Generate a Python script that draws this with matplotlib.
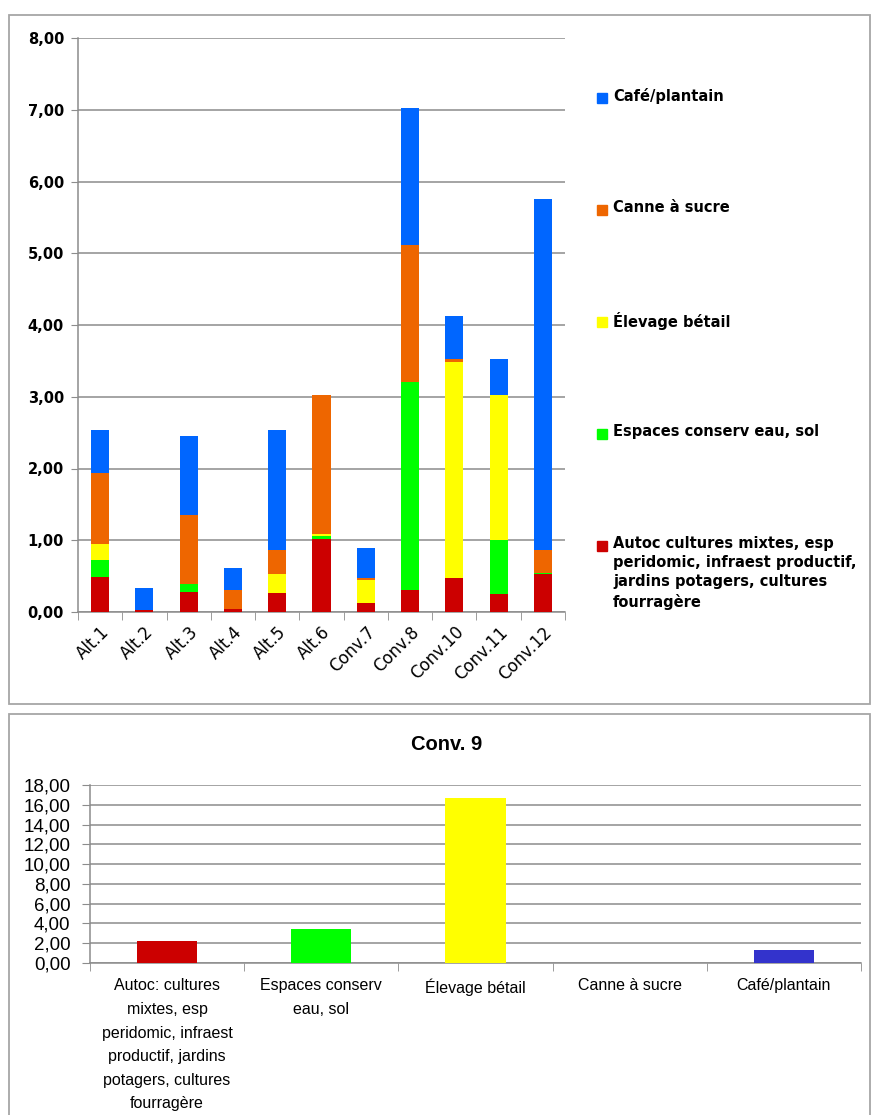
import matplotlib
matplotlib.use("Agg")
import matplotlib.pyplot as plt
import numpy as np
from matplotlib.patches import Rectangle
from matplotlib.ticker import FuncFormatter, FixedLocator

# stacked data (top chart)
sites = ['Alt.1', 'Alt.2', 'Alt.3', 'Alt.4', 'Alt.5', 'Alt.6',
         'Conv.7', 'Conv.8', 'Conv.10', 'Conv.11', 'Conv.12']
autoc = [0.49, 0.03, 0.28, 0.04, 0.26, 1.02, 0.13, 0.31, 0.47, 0.25, 0.53]
espaces = [0.24, 0.00, 0.11, 0.00, 0.00, 0.04, 0.00, 2.89, 0.00, 0.75, 0.02]
elevage = [0.22, 0.00, 0.00, 0.00, 0.27, 0.03, 0.31, 0.00, 3.01, 2.03, 0.00]
canne = [0.99, 0.00, 0.96, 0.27, 0.33, 1.94, 0.03, 1.91, 0.05, 0.00, 0.31]
cafe = [0.60, 0.30, 1.10, 0.31, 1.68, 0.00, 0.42, 1.91, 0.60, 0.49, 4.90]

series_names = ['Autoc cultures mixtes, esp\nperidomic, infraest productif,\njardins potagers, cultures\nfourragère',
                'Espaces conserv eau, sol', 'Élevage bétail', 'Canne à sucre', 'Café/plantain']
series_colors = ['#CC0000', '#00FF00', '#FFFF00', '#EE6600', '#0066FF']

# Conv. 9 (bottom chart)
conv9_cats = ['Autoc: cultures\nmixtes, esp\nperidomic, infraest\nproductif, jardins\npotagers, cultures\nfourragère',
              'Espaces conserv\neau, sol', 'Élevage bétail', 'Canne à sucre', 'Café/plantain']
conv9_vals = [2.18, 3.40, 16.72, 0.0, 1.31]
conv9_colors = ['#CC0000', '#00FF00', '#FFFF00', '#EE6600', '#3333CC']

W, H = 872, 1115
fig = plt.figure(figsize=(W / 100, H / 100), dpi=100)
fig.patch.set_facecolor('white')


def fx(px):
    return px / W


def fy(py):
    return 1 - py / H


comma = FuncFormatter(lambda v, p: f'{v:.2f}'.replace('.', ','))
grid_col = '#8C8C8C'

# outer frames
fig.patches.append(Rectangle((fx(9), fy(704)), fx(861), fy(15) - fy(704), transform=fig.transFigure,
                             fill=False, edgecolor='#A6A6A6', linewidth=1.3))
fig.patches.append(Rectangle((fx(9), fy(1125)), fx(861), fy(714) - fy(1125), transform=fig.transFigure,
                             fill=False, edgecolor='#A6A6A6', linewidth=1.3, clip_on=False))

# ---- top chart ----
ax = fig.add_axes([fx(78), fy(612), fx(565) - fx(78), fy(38) - fy(612)])
x = np.arange(len(sites))
bottom = np.zeros(len(sites))
for vals, col in zip([autoc, espaces, elevage, canne, cafe], series_colors):
    ax.bar(x, vals, 0.41, bottom=bottom, color=col, zorder=3)
    bottom += np.array(vals)

ax.set_xlim(-0.5, len(sites) - 0.5)
ax.set_ylim(0, 8)
ax.yaxis.set_major_locator(FixedLocator(np.arange(0, 8.01, 1)))
ax.yaxis.set_major_formatter(comma)
ax.yaxis.grid(True, color=grid_col, linewidth=1.1, zorder=0)
for s in ['top', 'right']:
    ax.spines[s].set_visible(False)
for s in ['left', 'bottom']:
    ax.spines[s].set_color(grid_col)
    ax.spines[s].set_linewidth(1.1)
ax.set_xticks(x)
ax.set_xticklabels(sites, rotation=45, ha='right', rotation_mode='anchor', fontsize=12)
ax.set_xticks(np.arange(-0.5, len(sites)), minor=True)
ax.tick_params(axis='x', which='major', length=0, pad=8)
ax.tick_params(axis='x', which='minor', length=6, color=grid_col)
ax.tick_params(axis='y', length=5, color=grid_col, labelsize=10.5, pad=5)
for t in ax.get_yticklabels():
    t.set_fontweight('bold')

# legend (top item first)
leg_y = [98, 210, 322, 434, 546]
for i, (name, col) in enumerate(zip(series_names[::-1], series_colors[::-1])):
    y = leg_y[i]
    fig.patches.append(Rectangle((fx(597), fy(y + 5)), fx(10), fy(y - 5) - fy(y + 5),
                                 transform=fig.transFigure, color=col))
    fig.text(fx(613), fy(y - 10), name, fontsize=10.5, fontweight='bold', va='top', ha='left',
             linespacing=1.35)

# ---- bottom chart ----
sans = ['Liberation Sans', 'DejaVu Sans']
ax2 = fig.add_axes([fx(90), fy(963), fx(861) - fx(90), fy(785) - fy(963)])
x2 = np.arange(len(conv9_cats))
ax2.bar(x2, conv9_vals, 0.39, color=conv9_colors, zorder=3)
ax2.set_xlim(-0.5, len(conv9_cats) - 0.5)
ax2.set_ylim(0, 18)
ax2.yaxis.set_major_locator(FixedLocator(np.arange(0, 18.01, 2)))
ax2.yaxis.set_major_formatter(comma)
ax2.yaxis.grid(True, color=grid_col, linewidth=1.1, zorder=0)
for s in ['top', 'right']:
    ax2.spines[s].set_visible(False)
for s in ['left', 'bottom']:
    ax2.spines[s].set_color(grid_col)
    ax2.spines[s].set_linewidth(1.1)
ax2.set_xticks(x2)
ax2.set_xticklabels(conv9_cats, family=sans, fontsize=11.5, linespacing=1.72, va='top')
ax2.set_xticks(np.arange(-0.5, len(conv9_cats)), minor=True)
ax2.tick_params(axis='x', which='major', length=0, pad=11)
ax2.tick_params(axis='x', which='minor', length=6, color=grid_col)
ax2.tick_params(axis='y', length=6, color=grid_col, pad=8)
for t in ax2.get_yticklabels():
    t.set_family(sans)
    t.set_fontsize(13.5)
fig.text(fx(447), fy(745), 'Conv. 9', family=sans, fontsize=14.5, fontweight='bold',
         ha='center', va='center')

fig.savefig('out.png', dpi=100)
